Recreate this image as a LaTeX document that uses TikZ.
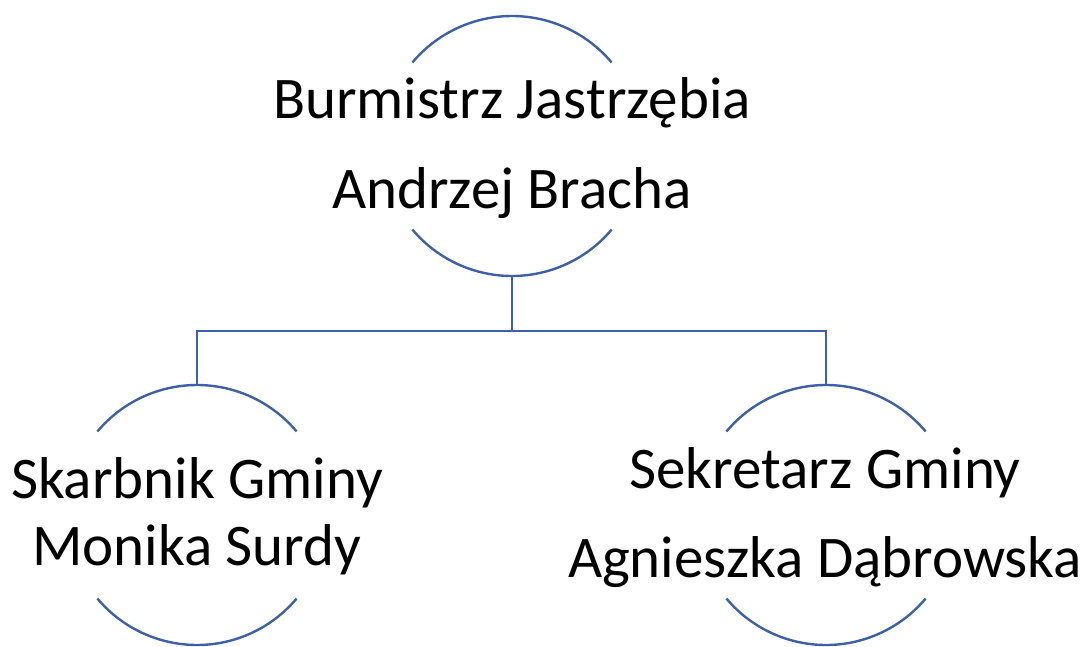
\documentclass[tikz,border=0pt]{standalone}
\usepackage{fontspec}
\setmainfont{Carlito}
\definecolor{linecol}{RGB}{62,96,168}
\begin{document}
\begin{tikzpicture}[x=1pt,y=-1pt,
  arcline/.style={draw=linecol,line width=2.4pt},
  conn/.style={draw=linecol,line width=2.4pt},
  lbl/.style={anchor=base,inner sep=0pt,font=\fontsize{59}{70}\selectfont}]
\useasboundingbox (0,0) rectangle (1085,646);
% circles (arcs only)
\coordinate (ctop) at (512,146);
\coordinate (cleft) at (197,515);
\coordinate (cright) at (826,515);
\foreach \c in {ctop,cleft,cright}{
  \draw[arcline] (\c) ++(-40:130) arc[start angle=-40,end angle=-140,radius=130];
  \draw[arcline] (\c) ++(40:130) arc[start angle=40,end angle=140,radius=130];
}
\coordinate (ttop) at (512,276);
\coordinate (ltop) at (197,385);
\coordinate (rtop) at (826,385);
\coordinate (mid) at (512,331);
\draw[conn] (ttop) -- (mid);
\draw[conn] (ltop) |- (mid) -| (rtop);
% labels
\node[lbl] (t1) at (512,118) {Burmistrz Jastrzębia};
\node[lbl] (t2) at (512,208) {Andrzej Bracha};
\node[lbl] (l1) at (197,498) {Skarbnik Gminy};
\node[lbl] (l2) at (197,565) {Monika Surdy};
\node[lbl] (r1) at (825,488) {Sekretarz Gminy};
\node[lbl] (r2) at (825,577) {Agnieszka Dąbrowska};
\end{tikzpicture}
\end{document}
